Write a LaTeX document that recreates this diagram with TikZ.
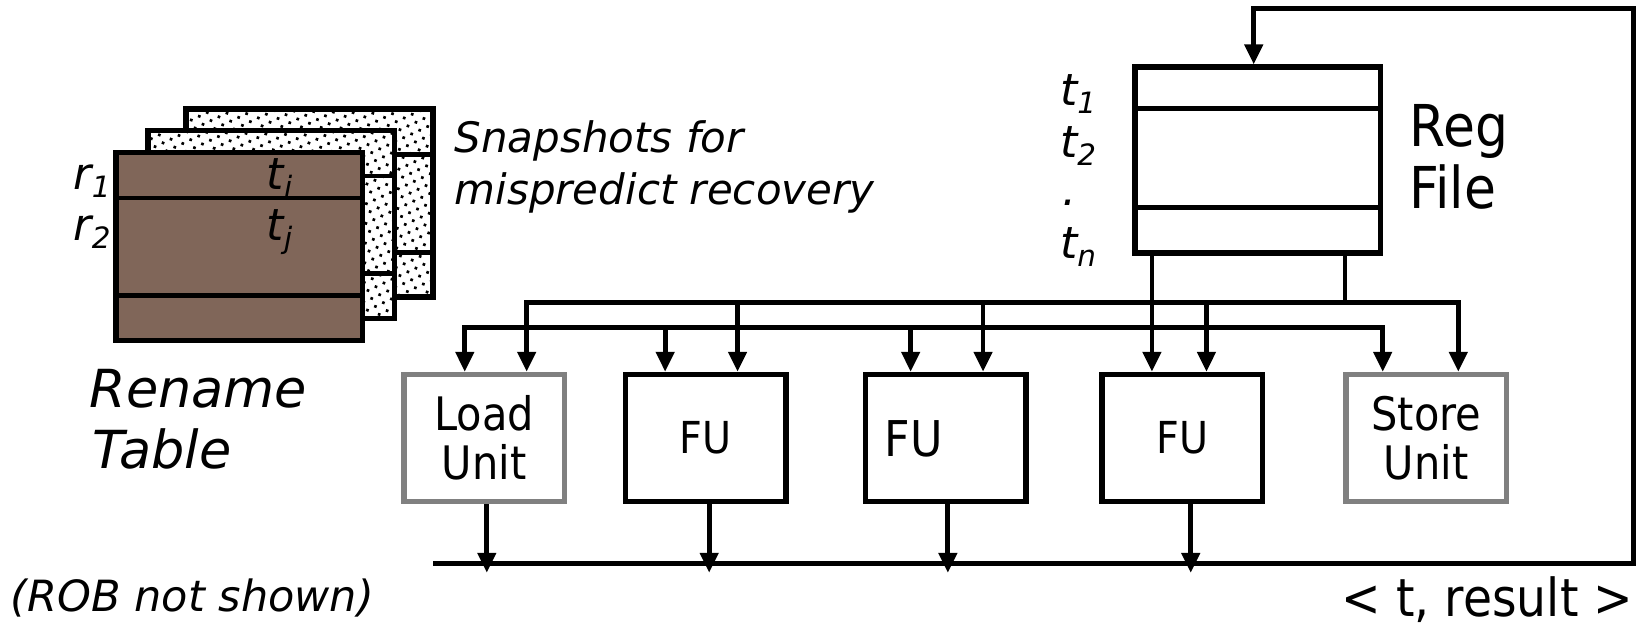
\documentclass[tikz,border=0pt]{standalone}
\usepackage{fontspec}
\setmainfont{DejaVu Sans}
\newfontfamily\condfont[FakeStretch=0.9]{DejaVu Sans}
\usetikzlibrary{arrows.meta,patterns.meta}
\definecolor{brownfill}{RGB}{128,102,89}
\definecolor{unitgray}{RGB}{128,128,128}
\newcommand{\lsub}[2]{#1\raisebox{-3.8pt}{\fontsize{14}{14}\selectfont #2}}
\begin{document}
\begin{tikzpicture}[x=0.5pt,y=-0.5pt,
  wire/.style={line width=2.3pt},
  arr/.style={wire,-{Triangle[length=9.5pt,width=8.5pt]}},
  unitbox/.style={draw,line width=2.6pt,minimum width=76.5pt,minimum height=60.5pt,inner sep=0pt,align=center,font=\condfont\fontsize{22}{23.5}\selectfont},
  grayunit/.style={unitbox,draw=unitgray},
  fulab/.style={font=\condfont\fontsize{21}{24}\selectfont},
  tablebox/.style={draw,line width=2.7pt,minimum width=117.5pt,minimum height=89.5pt,inner sep=0pt},
  snapbox/.style={tablebox,fill=white,postaction={pattern={Dots[distance=4.2pt,radius=0.9pt,angle=25]}}},
  lab/.style={anchor=base west,inner sep=0pt,font=\itshape\fontsize{21}{24}\selectfont},
  big/.style={anchor=base west,inner sep=0pt,font=\itshape\fontsize{25}{29}\selectfont},
  cond/.style={anchor=base west,inner sep=0pt,font=\condfont\fontsize{27.5}{30}\selectfont}
]
\useasboundingbox (0,0) rectangle (1568,598);
\fill[white] (0,0) rectangle (1568,598);

% rename table with snapshots
\node[snapbox] (snapB) at (295,193.5) {};
\draw[wire] ([shift={(0,46)}]snapB.north west) -- ([shift={(0,46)}]snapB.north east);
\draw[wire] ([shift={(0,139)}]snapB.north west) -- ([shift={(0,139)}]snapB.north east);
\node[snapbox] (snapM) at (258.5,214) {};
\draw[wire] ([shift={(0,46)}]snapM.north west) -- ([shift={(0,46)}]snapM.north east);
\draw[wire] ([shift={(0,139)}]snapM.north west) -- ([shift={(0,139)}]snapM.north east);
\node[tablebox,fill=brownfill] (rt) at (228,235) {};
\draw[wire] ([shift={(0,46)}]rt.north west) -- ([shift={(0,46)}]rt.north east);
\draw[wire] ([shift={(0,139)}]rt.north west) -- ([shift={(0,139)}]rt.north east);

\node[lab] (r1) at (70,181) {\lsub{r}{1}};
\node[lab] (r2) at (70,229) {\lsub{r}{2}};
\node[lab] (ti) at (254,181) {\lsub{t}{i}};
\node[lab] (tj) at (254,229) {\lsub{t}{j}};
\node[lab,font=\itshape\fontsize{20}{24}\selectfont] (snap1) at (433,145) {Snapshots for};
\node[lab,font=\itshape\fontsize{20}{24}\selectfont] (snap2) at (433,195) {mispredict recovery};
\node[big] (ren1) at (85,388) {Rename};
\node[big] (ren2) at (88,447) {Table};
\node[lab,font=\itshape\fontsize{20.5}{24}\selectfont] (rob) at (10,583) {(ROB not shown)};

% register file
\node[draw,line width=2.6pt,minimum width=117pt,minimum height=88.5pt,inner sep=0pt] (rf) at (1199,152.5) {};
\draw[wire] ([shift={(0,42)}]rf.north west) -- ([shift={(0,42)}]rf.north east);
\draw[wire] ([shift={(0,136)}]rf.north west) -- ([shift={(0,136)}]rf.north east);
\node[lab] (t1) at (1010,101) {\lsub{t}{1}};
\node[lab] (t2) at (1010,150) {\lsub{t}{2}};
\node[lab] (tdot) at (1012,196) {.};
\node[lab] (tn) at (1010,246) {\lsub{t}{n}};
\node[cond] (reg) at (1343,140) {Reg};
\node[cond] (file) at (1343,199) {File};

% units
\node[grayunit] (lu) at (461.5,417.5) {Load\\Unit};
\node[unitbox,fulab] (fu1) at (672.5,417.5) {FU};
\node[unitbox] (fu2) at (901.5,417.5) {};
\node[inner sep=0pt,font=\condfont\fontsize{23.5}{28}\selectfont] (fu2t) at (871,418) {FU};
\node[unitbox,fulab] (fu3) at (1127,417.5) {FU};
\node[grayunit] (su) at (1359.5,417.5) {Store\\Unit};

\node[anchor=base east,inner sep=0pt,font=\condfont\fontsize{25}{30}\selectfont] (res) at (1557,588) {< t, result >};

% columns
\coordinate (lu-a) at ([shift={(-18.5,0)}]lu.north);
\coordinate (lu-b) at ([shift={(40.5,0)}]lu.north);
\coordinate (fu1-a) at ([shift={(-38.5,0)}]fu1.north);
\coordinate (fu1-b) at ([shift={(30.5,0)}]fu1.north);
\coordinate (fu2-a) at ([shift={(-33.5,0)}]fu2.north);
\coordinate (fu2-b) at ([shift={(35.5,0)}]fu2.north);
\coordinate (fu3-a) at ([shift={(-29,0)}]fu3.north);
\coordinate (fu3-b) at ([shift={(23,0)}]fu3.north);
\coordinate (su-a) at ([shift={(-41.5,0)}]su.north);
\coordinate (su-b) at ([shift={(30.5,0)}]su.north);
\coordinate (ub) at (0,288);
\coordinate (lb) at (0,312);
\coordinate (rtip) at (0,546);
\coordinate (rbL) at (413,537);
\coordinate (fbC) at (1557,8);
\coordinate (rf-in) at ([shift={(-4,0)}]rf.north);
\coordinate (rf-o2) at ([shift={(83,0)}]rf.south);
\coordinate (lu-o) at ([shift={(2.5,0)}]lu.south);
\coordinate (fu1-o) at ([shift={(3.5,0)}]fu1.south);
\coordinate (fu2-o) at ([shift={(2,0)}]fu2.south);
\coordinate (fu3-o) at ([shift={(8,0)}]fu3.south);

% operand buses
\draw[arr] (su-b |- ub) -| (lu-b);
\draw[arr] (lu-b |- ub) -| (su-b);
\draw[arr] (su-a |- lb) -| (lu-a);
\draw[arr] (lu-a |- lb) -| (su-a);
\foreach \c in {fu1-b,fu2-b,fu3-b} \draw[arr] (\c |- ub) -- (\c);
\foreach \c in {fu1-a,fu2-a} \draw[arr] (\c |- lb) -- (\c);
\draw[arr] (fu3-a |- rf.south) -- (fu3-a);
\draw[wire] (rf-o2) -- (rf-o2 |- ub);

% result bus
\foreach \c in {lu-o,fu1-o,fu2-o,fu3-o} \draw[arr] (\c) -- (\c |- rtip);
\draw[arr] (rbL) -| (fbC) -| (rf-in);
\end{tikzpicture}
\end{document}
